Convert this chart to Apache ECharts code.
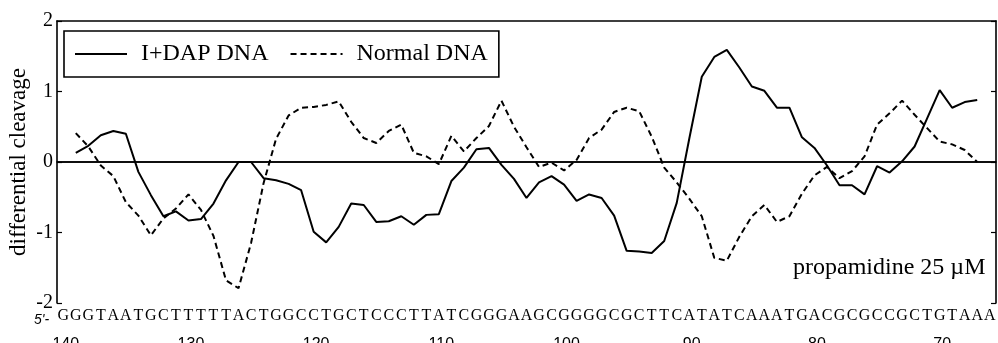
<!DOCTYPE html>
<html>
<head>
<meta charset="utf-8">
<script src="https://cdn.jsdelivr.net/npm/echarts@6/dist/echarts.min.js"></script>
<style>
  html, body { margin: 0; padding: 0; background: #fff; }
  #chart { width: 998px; height: 343px; }
</style>
</head>
<body>
<div id="chart"></div>
<script>
// DNA sequence read 5' -> 3', first letter is position 140
const sequence = "GGGTAATGCTTTTTACTGGCCTGCTCCCTTATCGGGAAGCGGGGCGCTTCATATCAAATGACGCGCCGCTGTAAA";
const firstBase = 140;
const tickLabels = [140, 130, 120, 110, 100, 90, 80, 70];
const yTicks = [-2, -1, 0, 1, 2];

// values start at position 139 and go down one base at a time to 67
const dataStart = 139;
const idapDna = [
  0.13, 0.23, 0.38, 0.44, 0.40, -0.14, -0.47, -0.77, -0.70, -0.83,
  -0.81, -0.59, -0.26, 0.00, 0.00, -0.23, -0.26, -0.31, -0.40, -0.99,
  -1.14, -0.92, -0.59, -0.61, -0.85, -0.84, -0.77, -0.89, -0.75, -0.74,
  -0.27, -0.08, 0.18, 0.20, -0.04, -0.24, -0.51, -0.29, -0.20, -0.32,
  -0.55, -0.46, -0.51, -0.76, -1.26, -1.27, -1.29, -1.12, -0.58, 0.33,
  1.21, 1.49, 1.59, 1.34, 1.07, 1.01, 0.77, 0.77, 0.35, 0.20,
  -0.05, -0.33, -0.33, -0.46, -0.06, -0.15, 0.01, 0.22, 0.62, 1.02,
  0.77, 0.85, 0.88
];
const normalDna = [
  0.41, 0.22, -0.05, -0.20, -0.57, -0.76, -1.04, -0.80, -0.66, -0.46,
  -0.68, -1.05, -1.68, -1.79, -1.15, -0.30, 0.33, 0.66, 0.77, 0.78,
  0.81, 0.86, 0.57, 0.34, 0.27, 0.44, 0.53, 0.13, 0.08, -0.03,
  0.37, 0.15, 0.34, 0.51, 0.87, 0.50, 0.21, -0.07, -0.01, -0.12,
  0.03, 0.34, 0.46, 0.71, 0.77, 0.72, 0.36, -0.08, -0.29, -0.52,
  -0.77, -1.36, -1.40, -1.06, -0.77, -0.61, -0.85, -0.77, -0.45, -0.19,
  -0.07, -0.23, -0.13, 0.08, 0.53, 0.69, 0.87, 0.67, 0.48, 0.29,
  0.25, 0.17, 0.00
];

const serif = "Liberation Serif";
const sans = "Liberation Sans";
const letters = sequence.split("");
const basePositions = letters.map((c, i) => String(firstBase - i));

let chartInst = echarts.init(document.getElementById("chart"));

function toPairs(vals) {
  return vals.map((v, i) => [dataStart - i, v]);
}

const frameLine = { lineStyle: { color: "#000", width: 1.6 } };

let option = {
  backgroundColor: "#fff",
  animation: false,
  grid: { left: 57, right: 2, top: 21, bottom: 40, outerBoundsMode: "none" },
  legend: {
    left: 64,
    top: 31,
    orient: "horizontal",
    padding: [11, 11, 11, 10],
    borderColor: "#000",
    borderWidth: 1.6,
    backgroundColor: "#fff",
    itemWidth: 52,
    itemHeight: 14,
    itemGap: 21,
    itemStyle: { opacity: 0 },
    textStyle: {
      fontFamily: serif,
      fontSize: 24,
      color: "#000",
      lineHeight: 24,
      padding: [0, 0, 0, 9],
    },
    data: ["I+DAP DNA", "Normal DNA"],
  },
  xAxis: [
    {
      // hidden value axis that places the points
      type: "value",
      min: 65.5,
      max: 140.5,
      inverse: true,
      show: false,
    },
    {
      // sequence letters along the bottom
      type: "category",
      position: "bottom",
      data: letters,
      boundaryGap: true,
      axisLine: frameLine,
      axisTick: { inside: true, alignWithLabel: true, length: 4, interval: 0, lineStyle: { color: "#000", width: 1.2 } },
      axisLabel: { interval: 0, margin: 5, fontFamily: serif, fontSize: 16, color: "#000" },
      splitLine: { show: false },
    },
    {
      // top frame with ticks
      type: "category",
      position: "top",
      data: letters,
      boundaryGap: true,
      axisLine: frameLine,
      axisTick: { inside: true, alignWithLabel: true, length: 4, interval: 0, lineStyle: { color: "#000", width: 1.2 } },
      axisLabel: { show: false },
      splitLine: { show: false },
    },
    {
      // position numbers under the letters
      type: "category",
      position: "bottom",
      data: basePositions,
      boundaryGap: true,
      axisLine: { show: false },
      axisTick: { show: false },
      axisLabel: {
        interval: (i, val) => tickLabels.indexOf(Number(val)) >= 0,
        margin: 34,
        padding: [0, 0, 0, 5],
        fontFamily: sans,
        fontSize: 16,
        color: "#000",
      },
      splitLine: { show: false },
    },
  ],
  yAxis: [
    {
      type: "value",
      min: yTicks[0],
      max: yTicks[yTicks.length - 1],
      interval: 1,
      name: "differential cleavage",
      nameLocation: "middle",
      nameRotate: 90,
      nameGap: 27,
      nameMoveOverlap: false,
      nameTextStyle: { fontFamily: serif, fontSize: 23, color: "#000" },
      axisLine: { show: true, lineStyle: { color: "#000", width: 1.6 } },
      axisTick: { show: true, inside: true, length: 5, lineStyle: { color: "#000", width: 1.2 } },
      axisLabel: { margin: 4, fontFamily: serif, fontSize: 20, color: "#000" },
      splitLine: { show: false },
    },
    {
      type: "value",
      min: yTicks[0],
      max: yTicks[yTicks.length - 1],
      interval: 1,
      position: "right",
      axisLine: { show: true, lineStyle: { color: "#000", width: 1.6 } },
      axisTick: { show: true, inside: true, length: 5, lineStyle: { color: "#000", width: 1.2 } },
      axisLabel: { show: false },
      splitLine: { show: false },
    },
  ],
  graphic: [
    {
      type: "text",
      left: 793,
      top: 256,
      style: { text: "propamidine 25 \u00b5M", font: "24px 'Liberation Serif'", fill: "#000" },
    },
    {
      type: "text",
      left: 34,
      top: 313,
      style: { text: "5'-", font: "italic 14px 'Liberation Sans'", fill: "#000" },
    },
  ],
  series: [
    {
      name: "I+DAP DNA",
      type: "line",
      xAxisIndex: 0,
      yAxisIndex: 0,
      symbol: "none",
      data: toPairs(idapDna),
      lineStyle: { color: "#000", width: 2, type: "solid" },
      itemStyle: { color: "#000" },
      markLine: {
        silent: true,
        symbol: "none",
        label: { show: false },
        lineStyle: { color: "#000", width: 1.5, type: "solid" },
        data: [{ yAxis: 0 }],
      },
      z: 3,
    },
    {
      name: "Normal DNA",
      type: "line",
      xAxisIndex: 0,
      yAxisIndex: 0,
      symbol: "none",
      data: toPairs(normalDna),
      lineStyle: { color: "#000", width: 2, type: [6, 4] },
      itemStyle: { color: "#000" },
      z: 3,
    },
  ],
};

chartInst.setOption(option, true);
</script>
</body>
</html>
